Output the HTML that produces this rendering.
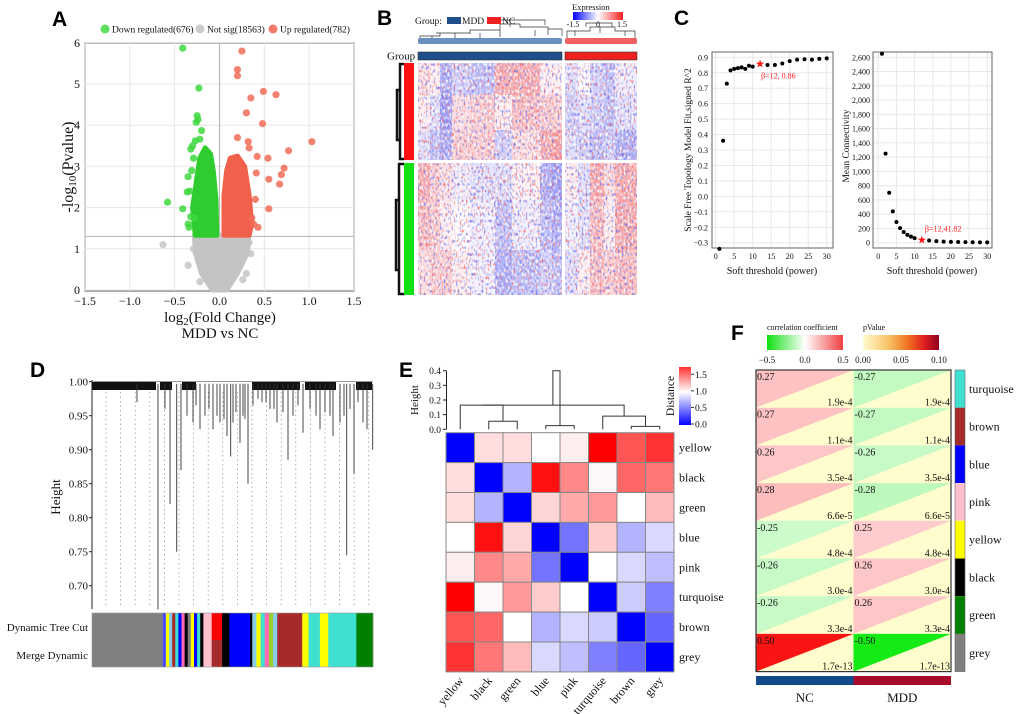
<!DOCTYPE html>
<html><head><meta charset="utf-8"><style>
html,body{margin:0;padding:0;background:#fff;}
svg{display:block;}
.L{font-family:"Liberation Sans",sans-serif;font-weight:bold;font-size:21px;}
</style></head><body>
<svg id="fig" width="1020" height="714" viewBox="0 0 1020 714" xmlns="http://www.w3.org/2000/svg" font-family="Liberation Serif, serif">
<defs>
<filter id="nr" x="0" y="0" width="1" height="1"><feTurbulence type="fractalNoise" baseFrequency="0.5 0.3" numOctaves="1" seed="3"/><feColorMatrix values="0 0 0 0 0.93  0 0 0 0 0.15  0 0 0 0 0.15  4 0 0 0 -2.1"/></filter>
<filter id="nb" x="0" y="0" width="1" height="1"><feTurbulence type="fractalNoise" baseFrequency="0.5 0.3" numOctaves="1" seed="11"/><feColorMatrix values="0 0 0 0 0.15  0 0 0 0 0.18  0 0 0 0 0.93  4 0 0 0 -2.1"/></filter>
<filter id="nw" x="0" y="0" width="1" height="1"><feTurbulence type="fractalNoise" baseFrequency="0.5 0.3" numOctaves="1" seed="23"/><feColorMatrix values="0 0 0 0 1  0 0 0 0 1  0 0 0 0 1  4 0 0 0 -1.9"/></filter>
<linearGradient id="gExp"><stop offset="0" stop-color="#0000ff"/><stop offset="0.5" stop-color="#ffffff"/><stop offset="1" stop-color="#ff2020"/></linearGradient>
<linearGradient id="gDist" x1="0" y1="1" x2="0" y2="0"><stop offset="0" stop-color="#0000ff"/><stop offset="0.57" stop-color="#ffffff"/><stop offset="1" stop-color="#ff3030"/></linearGradient>
<linearGradient id="gCor"><stop offset="0" stop-color="#10e010"/><stop offset="0.5" stop-color="#ffffff"/><stop offset="1" stop-color="#f04040"/></linearGradient>
<linearGradient id="gP"><stop offset="0" stop-color="#fffbd0"/><stop offset="0.35" stop-color="#f8c060"/><stop offset="0.6" stop-color="#f07020"/><stop offset="0.8" stop-color="#e02020"/><stop offset="1" stop-color="#900020"/></linearGradient>
</defs>
<text class="L" x="52" y="26">A</text>
<text class="L" x="377" y="25">B</text>
<text class="L" x="674" y="25">C</text>
<text class="L" x="30" y="377">D</text>
<text class="L" x="399" y="377">E</text>
<text class="L" x="731" y="340">F</text>
<g id="gA"></g>
<g id="gB"></g>
<g id="gC"></g>
<g id="gD"></g>
<g id="gE"></g>
<g id="gF"></g>
</svg>
<script>
// ---------- DATA ----------
// Panel A
const greenX=[-0.41,-0.23,-0.25,-0.24,-0.26,-0.2,-0.27,-0.22,-0.3,-0.32,-0.35,-0.58,-0.41,-0.36,-0.33,-0.35,-0.34,-0.32,-0.28,-0.29,-0.31];
const greenY=[5.87,4.9,4.23,4.14,4.07,3.87,3.62,3.66,3.5,3.42,2.75,2.13,1.97,2.38,2.4,1.6,1.52,1.78,1.75,3.2,2.9];
const redX=[0.25,0.2,0.2,0.49,0.63,0.35,0.3,0.48,1.03,0.77,0.2,0.32,0.42,0.54,0.72,0.69,0.55,0.67,0.55,0.4,0.43,0.38,0.41,0.33,0.36];
const redY=[5.8,5.35,5.2,4.82,4.74,4.66,4.3,4.04,3.6,3.38,3.7,3.6,3.24,3.2,2.96,2.8,2.69,2.57,1.97,2.2,1.52,1.6,2.84,3.45,1.75];
const greyX=[-0.63,-0.35,-0.22,0.26,0.35,0.3,-0.29,0.33];
const greyY=[1.1,0.6,0.2,0.25,0.88,0.4,1.0,1.15];
const greenBulkX=[-0.03,-0.04,-0.07,-0.1,-0.16,-0.22,-0.26,-0.3,-0.27];
const greenBulkY=[1.33,2.2,2.9,3.3,3.45,3.2,2.6,2.0,1.33];
const redBulkX=[0.05,0.05,0.08,0.12,0.2,0.28,0.33,0.36,0.33];
const redBulkY=[1.33,2.3,2.9,3.2,3.25,3.0,2.3,1.6,1.33];
const greyBulkX=[-0.28,0.33,0.31,0.2,0.08,-0.08,-0.2,-0.27];
const greyBulkY=[1.33,1.33,0.9,0.4,0,0,0.4,0.9];
const aXTicks=[-1.5,-1.0,-0.5,0.0,0.5,1.0,1.5];
const aYTicks=[0,1,2,3,4,5,6];
// Panel B block values
const bRows=[[0.2,0.1,-0.5,-0.3,-0.4,0.5,0.5,0.1,0.1,-0.2,0.0,-0.3,-0.4,-0.1],
[0.1,-0.2,-0.6,0.2,0.3,0.1,0.4,0.3,0.3,-0.3,-0.2,-0.3,-0.4,-0.2],
[-0.2,-0.4,-0.5,0.3,0.3,-0.3,0.2,0.5,0.6,-0.2,-0.3,-0.4,-0.3,-0.5],
[0.5,0.3,0.2,-0.1,-0.2,-0.2,0.1,-0.5,-0.6,0.1,-0.2,0.5,0.2,0.5],
[0.4,0.3,0.1,0.0,-0.1,-0.4,-0.1,-0.4,-0.5,-0.1,-0.2,0.4,0.1,0.5],
[0.2,0.3,0.3,0.1,-0.1,-0.5,-0.4,-0.3,-0.4,-0.2,0.1,0.4,0.3,0.4]];
// Panel C
const powers=[1,2,3,4,5,6,7,8,9,10,12,14,16,18,20,22,24,26,28,30];
const r2Vals=[-0.34,0.36,0.73,0.815,0.825,0.83,0.835,0.825,0.845,0.84,0.86,0.85,0.85,0.86,0.875,0.885,0.887,0.885,0.89,0.893];
const connVals=[2650,1250,700,440,290,205,150,110,85,65,41.82,30,22,15,12,10,8,6,5,4];
const selectedPower=12;
const cLeftTicks=[-0.3,-0.2,-0.1,0.0,0.1,0.2,0.3,0.4,0.5,0.6,0.7,0.8,0.9];
const cRightTicks=[0,200,400,600,800,1000,1200,1400,1600,1800,2000,2200,2400,2600];
const cXTicks=[0,5,10,15,20,25,30];
// Panel D
const dropPos=[158,170,176.7,181,230.7,248,288,303,346.7,354,372.7,200,213,240,253,277,320,333,363,137,187,193,227,233,293,330,340,367,165,205,220,262,270,283,310,316,350,358,196,245,209,217,224,236,243,258,266,274,298,325,344];
const dropH=[0.665,0.82,0.75,0.87,0.89,0.85,0.885,0.925,0.745,0.865,0.90,0.93,0.93,0.91,0.965,0.94,0.93,0.92,0.94,0.97,0.95,0.94,0.92,0.94,0.95,0.95,0.94,0.93,0.96,0.95,0.94,0.97,0.96,0.955,0.96,0.95,0.96,0.97,0.965,0.945,0.96,0.95,0.945,0.955,0.95,0.975,0.97,0.96,0.965,0.955,0.95];
const dTicks=[1.00,0.95,0.90,0.85,0.80,0.75,0.70];
const modColors=['#808080','#4a4aff','#ffff00','#87ceeb','#a52a2a','#40e0d0','#0000ff','#ff69b4','#000000','#808080','#ffff00','#0000ff','#40e0d0','#000000','#ffc0cb','#ff0000','#000000','#0000ff','#000000','#87ceeb','#ffff00','#40e0d0','#ff69b4','#9acd32','#87ceeb','#a52a2a','#ffff00','#40e0d0','#ffff00','#40e0d0','#008000'];
const modMerged=['#808080','#4a4aff','#ffff00','#87ceeb','#a52a2a','#40e0d0','#0000ff','#ff69b4','#000000','#808080','#ffff00','#0000ff','#40e0d0','#000000','#ffc0cb','#a52a2a','#000000','#0000ff','#000000','#87ceeb','#ffff00','#40e0d0','#ff69b4','#9acd32','#87ceeb','#a52a2a','#ffff00','#40e0d0','#ffff00','#40e0d0','#008000'];
const modSizes=[68,3,3,3,3,3,3,3,3,3,3,3,3,3,8,10,7,20,2,4,4,4,4,4,4,24,6,11,8,27,16];
// Panel E
const eMods=['yellow','black','green','blue','pink','turquoise','brown','grey'];
const eDist=[[0,1.1,1.1,1.0,1.05,1.75,1.5,1.6],[1.1,0,0.7,1.7,1.35,1.02,1.45,1.4],[1.1,0.7,0,1.12,1.25,1.3,1.0,1.2],[1.0,1.7,1.12,0,0.45,1.15,0.7,0.85],[1.05,1.35,1.25,0.45,0,1.0,0.85,0.75],[1.75,1.02,1.3,1.15,1.0,0,0.8,0.5],[1.5,1.45,1.0,0.7,0.85,0.8,0,0.4],[1.6,1.4,1.2,0.85,0.75,0.5,0.4,0]];
const eMerges=[[2,1,0.055],[0,-1,0.165],[3,4,0.025],[6,7,0.02],[5,-1,0.09],[-2,-1,0.165],[-1,-2,0.4]];
const eHTicks=[0.0,0.1,0.2,0.3,0.4];
const eDTicks=[0.0,0.5,1.0,1.5];
// Panel F
const fMods=['turquoise','brown','blue','pink','yellow','black','green','grey'];
const fModCols=['#40e0d0','#a52a2a','#0000ff','#ffc0cb','#ffff00','#000000','#008000','#808080'];
const corNC=[0.27,0.27,0.26,0.28,-0.25,-0.26,-0.26,0.50];
const corMDD=[-0.27,-0.27,-0.26,-0.28,0.25,0.26,0.26,-0.50];
const pVals=['1.9e-4','1.1e-4','3.5e-4','6.6e-5','4.8e-4','3.0e-4','3.3e-4','1.7e-13'];
const fCorTicks=['−0.5','0.0','0.5'];
const fPTicks=['0.00','0.05','0.10'];

// ---------- HELPERS ----------
const NS='http://www.w3.org/2000/svg';
function mk(tag,attrs,parent){const e=document.createElementNS(NS,tag);for(const k in attrs)e.setAttribute(k,attrs[k]);parent.appendChild(e);return e;}
function tx(parent,x,y,s,size,anchor,extra){const e=mk('text',Object.assign({x:x,y:y,'font-size':size,'text-anchor':anchor||'start',fill:'#111','font-family':'Liberation Serif, serif'},extra||{}),parent);e.textContent=s;return e;}
function mix(c1,c2,t){return 'rgb('+c1.map((v,i)=>Math.round(v+(c2[i]-v)*t)).join(',')+')';}

// ---------- PANEL A ----------
(function(){
const g=document.getElementById('gA');
const xA=v=>85+(v+1.5)*89.67, yA=v=>290-v*41.2;
let bg=mk('rect',{x:85,y:43,width:269,height:248,fill:'#fff',stroke:'#888','stroke-width':1.5},g);


aXTicks.forEach(v=>{let l=mk('line',{x1:xA(v),x2:xA(v),y1:43,y2:291,stroke:'#e6e6e6'},g);


let t=tx(g,xA(v),305,(v<0?'−':'')+Math.abs(v).toFixed(1),12,'middle');

});
aYTicks.forEach(v=>{let l=mk('line',{x1:85,x2:354,y1:yA(v),y2:yA(v),stroke:'#e6e6e6'},g);


let t=tx(g,80,yA(v)+4,String(v),12,'end');

});
let v0=mk('line',{x1:xA(0),x2:xA(0),y1:43,y2:291,stroke:'#bbb','stroke-width':1.2},g);


let th=mk('line',{x1:85,x2:354,y1:yA(1.3),y2:yA(1.3),stroke:'#bbb','stroke-width':1.2},g);


function bulk(xs,ys,col,name){let p=mk('polygon',{points:xs.map((x,i)=>xA(x)+','+yA(ys[i])).join(' '),fill:col,stroke:col,'stroke-width':5,'stroke-linejoin':'round'},g);

}
bulk(greyBulkX,greyBulkY,'#c4c4c4','not-sig-point-cloud');
bulk(greenBulkX,greenBulkY,'#2ecc2e','down-regulated-point-cloud');
bulk(redBulkX,redBulkY,'#f0604a','up-regulated-point-cloud');
function pts(xs,ys,col,name){xs.forEach((x,i)=>{let c=mk('circle',{cx:xA(x),cy:yA(ys[i]),r:3.6,fill:col,'fill-opacity':0.85},g);

});}
pts(greyX,greyY,'#c4c4c4','not-sig-point');
pts(greenX,greenY,'#3ed83e','down-regulated-point');
pts(redX,redY,'#f26c58','up-regulated-point');
const leg=[[105,'#5ee05e','Down regulated(676)'],[200,'#cccccc','Not sig(18563)'],[273,'#f47a6a','Up regulated(782)']];
leg.forEach(l=>{let c=mk('circle',{cx:l[0],cy:29,r:4.5,fill:l[1]},g);


let t=tx(g,l[0]+7,32.5,l[2],9.5);

});
let xt=tx(g,220,322,'',15,'middle');xt.innerHTML='log<tspan font-size="11" dy="3">2</tspan><tspan dy="-3">(Fold Change)</tspan>';


let xs=tx(g,220,338,'MDD vs NC',15,'middle');


let yt=tx(g,0,0,'',16,'middle',{transform:'translate(73,167) rotate(-90)'});yt.innerHTML='-log<tspan font-size="11" dy="3">10</tspan><tspan dy="-3">(Pvalue)</tspan>';


})();

// ---------- PANEL B ----------
(function(){
const g=document.getElementById('gB');
const colL=[418,430,440,452,470,495,512,540,552,565,578,590,604,615];
const colR=[430,440,452,470,495,512,540,552,562,578,590,604,615,637];
const rowEdges=[[63,95],[95,130],[130,160],[163,200],[200,250],[250,295]];
bRows.forEach((row,ri)=>{row.forEach((v,k)=>{
const col=v>=0?mix([255,255,255],[240,50,50],Math.min(1,v*0.8)):mix([255,255,255],[50,60,240],Math.min(1,-v*0.8));
let r=mk('rect',{x:colL[k],y:rowEdges[ri][0],width:colR[k]-colL[k],height:rowEdges[ri][1]-rowEdges[ri][0],fill:col},g);

});});
[[418,63,144,97],[565,63,72,97],[418,163,144,132],[565,163,72,132]].forEach(b=>{['nr','nb','nw'].forEach(f=>{let n=mk('rect',{x:b[0],y:b[1],width:b[2],height:b[3],filter:'url(#'+f+')',opacity:0.85},g);

});});
let gb1=mk('rect',{x:418,y:52,width:144,height:8,fill:'#1f4e8c',stroke:'#333','stroke-width':0.6},g);


let gb2=mk('rect',{x:565,y:52,width:72,height:8,fill:'#ee2020',stroke:'#333','stroke-width':0.6},g);


let gl=tx(g,387,59.5,'Group',11);


let cd1=mk('path',{d:'M420 40 V36 H440 V33 H436 M440 33 H470 V30 H500 V24 H520 V27 H548 V29 H562 V36 M470 30 V34 M495 24 V20 H545 V25 M510 24 V27 M535 30 V36 M548 29 V35 M432 36 V40 M455 33 V38 M480 33 V38 M500 30 V37',fill:'none',stroke:'#333','stroke-width':0.7},g);


let cd2=mk('path',{d:'M567 38 V31 H590 V27 H615 V31 H635 V38 M575 31 V36 M600 27 V33 M625 31 V36 M586 27 V23 H612 V27',fill:'none',stroke:'#333','stroke-width':0.7},g);


let cm1=mk('rect',{x:418,y:38,width:144,height:6,fill:'#6a90c0',rx:2},g);


let cm2=mk('rect',{x:565,y:38,width:72,height:6,fill:'#f06060',rx:2},g);


let ra1=mk('rect',{x:404,y:63,width:10,height:97,fill:'#ff1010'},g);


let ra2=mk('rect',{x:404,y:163,width:10,height:132,fill:'#10e010'},g);


let rd=mk('path',{d:'M404 64 H400 V159 H404 M400 90 H397 V140 H400 M404 164 H399 V294 H404 M399 200 H396 V270 H399',fill:'none',stroke:'#111','stroke-width':2.5},g);


let gt=tx(g,415,24,'Group:',9.5);


let l1=mk('rect',{x:447,y:17,width:14,height:7,fill:'#1f4e8c'},g);


let l1t=tx(g,462,24,'MDD',9.5);


let l2=mk('rect',{x:487,y:17,width:14,height:7,fill:'#ee2020'},g);


let l2t=tx(g,502,24,'NC',9.5);


let et=tx(g,572,10,'Expression',8.5);


let eb=mk('rect',{x:573,y:12,width:50,height:8,fill:'url(#gExp)'},g);


[['-1.5',573],['0',598],['1.5',622]].forEach(k=>{let t=tx(g,k[1],27,k[0],8,'middle');

});
})();

// ---------- PANEL C ----------
(function(){
const g=document.getElementById('gC');
function frame(x0,y0,w,h,name){let r=mk('rect',{x:x0,y:y0,width:w,height:h,fill:'none',stroke:'#666','stroke-width':1},g);

}
const xL=v=>715.7+v*3.7, yL=v=>242.7-(v+0.3)*154.5;
cLeftTicks.forEach(v=>{let l=mk('line',{x1:712,x2:833,y1:yL(v),y2:yL(v),stroke:'#e8e8e8'},g);


let t=tx(g,708,yL(v)+3,(v<0?'−':'')+Math.abs(v).toFixed(1),8,'end');

});
const xR=v=>878.3+v*3.63, yR=v=>242.7-v*0.07131;
cRightTicks.forEach(v=>{let l=mk('line',{x1:873,x2:992,y1:yR(v),y2:yR(v),stroke:'#e8e8e8'},g);


let t=tx(g,870,yR(v)+3,v.toLocaleString('en-US'),8,'end');

});
cXTicks.forEach(v=>{[[xL,712,833],[xR,873,992]].forEach(a=>{let l=mk('line',{x1:a[0](v),x2:a[0](v),y1:52,y2:248,stroke:'#e8e8e8'},g);


let t=tx(g,a[0](v),259,String(v),8,'middle');

});});
frame(712,52,121,196,'scale-free-plot-area');
frame(873,52,119,196,'connectivity-plot-area');
powers.forEach((p,i)=>{if(p===selectedPower){
let s=tx(g,xL(p),yL(r2Vals[i])+4,'★',11,'middle',{fill:'#ff1010'});


let s2=tx(g,xR(p),yR(connVals[i])+4,'★',11,'middle',{fill:'#ff1010'});


}else{
let c=mk('circle',{cx:xL(p),cy:yL(r2Vals[i]),r:2,fill:'#000'},g);


let c2=mk('circle',{cx:xR(p),cy:yR(connVals[i]),r:2,fill:'#000'},g);

}});
const si=powers.indexOf(selectedPower);
let a1=tx(g,xL(selectedPower)+1,yL(r2Vals[si])+15,'β=12, '+r2Vals[si].toFixed(2),8,'start',{fill:'#ff2020'});


let a2=tx(g,xR(selectedPower)+3,yR(connVals[si])-8,'β=12,'+connVals[si].toFixed(2),8,'start',{fill:'#ff2020'});


let t1=tx(g,772,274,'Soft threshold (power)',10,'middle');


let t2=tx(g,932,274,'Soft threshold (power)',10,'middle');


let t3=tx(g,0,0,'Scale Free Topology Model Fit,signed R^2',9.5,'middle',{transform:'translate(691,150) rotate(-90)'});


let t4=tx(g,0,0,'Mean Connectivity',9.5,'middle',{transform:'translate(849,146) rotate(-90)'});


})();

// ---------- PANEL D ----------
(function(){
const g=document.getElementById('gD');
const yD=v=>381.7+(1-v)*680;
for(let x=106;x<372;x+=14.6){let l=mk('line',{x1:x,x2:x,y1:392,y2:606,stroke:'#999','stroke-width':0.8,'stroke-dasharray':'1.5,3'},g);

}
let ax=mk('line',{x1:92,x2:92,y1:380,y2:609,stroke:'#222'},g);


let top=mk('line',{x1:92,x2:373,y1:381.5,y2:381.5,stroke:'#999'},g);


dTicks.forEach(v=>{let l=mk('line',{x1:89,x2:92,y1:yD(v),y2:yD(v),stroke:'#222'},g);


let t=tx(g,88,yD(v)+4,v.toFixed(2),11,'end');

});
[[92,156],[160,172],[182,196],[252,300],[305,336],[356,372]].forEach(b=>{let r=mk('rect',{x:b[0],y:382,width:b[1]-b[0],height:8,fill:'#111'},g);

});
dropPos.forEach((x,i)=>{let l=mk('line',{x1:x,x2:x,y1:yD(0.997),y2:yD(dropH[i]),stroke:'#333','stroke-width':0.9},g);

});
const total=modSizes.reduce((a,b)=>a+b,0);let cx=92;
modSizes.forEach((s,i)=>{const w=s/total*281;
let r1=mk('rect',{x:cx,y:613,width:w+0.3,height:27,fill:modColors[i]},g);


let r2=mk('rect',{x:cx,y:640,width:w+0.3,height:27,fill:modMerged[i]},g);

cx+=w;});
let fr=mk('rect',{x:92,y:613,width:281,height:54,fill:'none',stroke:'#999','stroke-width':0.6},g);


let t1=tx(g,88,631,'Dynamic Tree Cut',11,'end');


let t2=tx(g,88,659,'Merge Dynamic',11,'end');


let t3=tx(g,0,0,'Height',13,'middle',{transform:'translate(60,497) rotate(-90)'});


})();

// ---------- PANEL E ----------
(function(){
const g=document.getElementById('gE');
const x0=446,y0=432.7,cw=28.5,ch=29.9;
const yH=v=>429.3-v*146.5;
const col=d=>d<=1?mix([0,0,255],[255,255,255],d):mix([255,255,255],[255,0,0],Math.min(1,(d-1)/0.75));
eDist.forEach((row,i)=>row.forEach((d,j)=>{let r=mk('rect',{x:x0+j*cw,y:y0+i*ch,width:cw,height:ch,fill:col(d),stroke:'#888','stroke-width':1},g);

}));
eMods.forEach((m,i)=>{let t=tx(g,x0+8*cw+5,y0+i*ch+ch/2+4,m,12);


const cx=x0+(i+0.5)*cw+4;let b=tx(g,0,0,m,12,'end',{transform:'translate('+cx+',681) rotate(-50)'});

});
const stack=[];
eMerges.forEach(m=>{const get=k=>{if(k>=0)return {x:x0+(k+0.5)*cw,h:0};return stack.splice(stack.length+k,1)[0];};
let a,b;if(m[1]<0){b=get(m[1]);a=get(m[0]);}else{a=get(m[0]);b=get(m[1]);}
const y=yH(m[2]);let p=mk('path',{d:'M'+a.x+' '+yH(a.h)+' V'+y+' H'+b.x+' V'+yH(b.h),fill:'none',stroke:'#333','stroke-width':1},g);


stack.push({x:(a.x+b.x)/2,h:m[2]});});
let ax=mk('line',{x1:446.5,x2:446.5,y1:yH(0.4),y2:yH(0),stroke:'#222'},g);


eHTicks.forEach(v=>{let l=mk('line',{x1:443,x2:446.5,y1:yH(v),y2:yH(v),stroke:'#222'},g);


let t=tx(g,441,yH(v)+3.5,v.toFixed(1),9.5,'end');

});
let ht=tx(g,0,0,'Height',11,'middle',{transform:'translate(418,400) rotate(-90)'});


let cb=mk('rect',{x:679,y:367,width:12,height:58,fill:'url(#gDist)'},g);


eDTicks.forEach(v=>{const y=424-v/1.75*58;
let l=mk('line',{x1:691,x2:694,y1:y,y2:y,stroke:'#333'},g);


let t=tx(g,695,y+3.5,v.toFixed(1),9.5);

});
let dt=tx(g,0,0,'Distance',11.5,'middle',{transform:'translate(674,396) rotate(-90)'});


})();

// ---------- PANEL F ----------
(function(){
const g=document.getElementById('gF');
const x0=756,y0=370,cw=97.5,rh=37.7;
const cc=r=>{const t=Math.pow(Math.min(1,Math.abs(r)/0.5),2.2);return r>=0?mix([255,255,255],[250,20,20],t):mix([255,255,255],[20,235,20],t);};
fMods.forEach((m,i)=>{[corNC,corMDD].forEach((arr,j)=>{const x=x0+j*cw,y=y0+i*rh;
let bg=mk('rect',{x:x,y:y,width:cw,height:rh,fill:'#fffccd'},g);


let tri=mk('polygon',{points:x+','+y+' '+(x+cw)+','+y+' '+x+','+(y+rh),fill:cc(arr[i])},g);


let ct=tx(g,x+1,y+10,arr[i].toFixed(2),10);


let pt=tx(g,x+cw-1,y+rh-2,pVals[i],10,'end');

});
let s=mk('rect',{x:955,y:y0+i*rh,width:10,height:rh,fill:fModCols[i]},g);


let t=tx(g,969,y0+i*rh+rh/2+4,m,12);

});
let fr=mk('rect',{x:x0,y:y0,width:2*cw,height:8*rh,fill:'none',stroke:'#333','stroke-width':1.2},g);


let sf=mk('rect',{x:955,y:y0,width:10,height:8*rh,fill:'none',stroke:'#666','stroke-width':0.6},g);


let b1=mk('rect',{x:x0,y:676,width:cw,height:9,fill:'#124b8c'},g);


let b2=mk('rect',{x:x0+cw,y:676,width:cw,height:9,fill:'#a80a2a'},g);


let n1=tx(g,x0+cw/2,702,'NC',13,'middle');


let n2=tx(g,x0+1.5*cw,702,'MDD',13,'middle');


let c1=mk('rect',{x:767,y:335,width:76,height:15,fill:'url(#gCor)'},g);


let c2=mk('rect',{x:863,y:335,width:76,height:15,fill:'url(#gP)'},g);


let ct=tx(g,767,330,'correlation coefficient',8);


let pt=tx(g,863,330,'pValue',8);


fCorTicks.forEach((s,i)=>{let t=tx(g,767+i*38,363,s,9,'middle');

});
fPTicks.forEach((s,i)=>{let t=tx(g,863+i*38,363,s,9,'middle');

});
})();
</script>
</body></html>
